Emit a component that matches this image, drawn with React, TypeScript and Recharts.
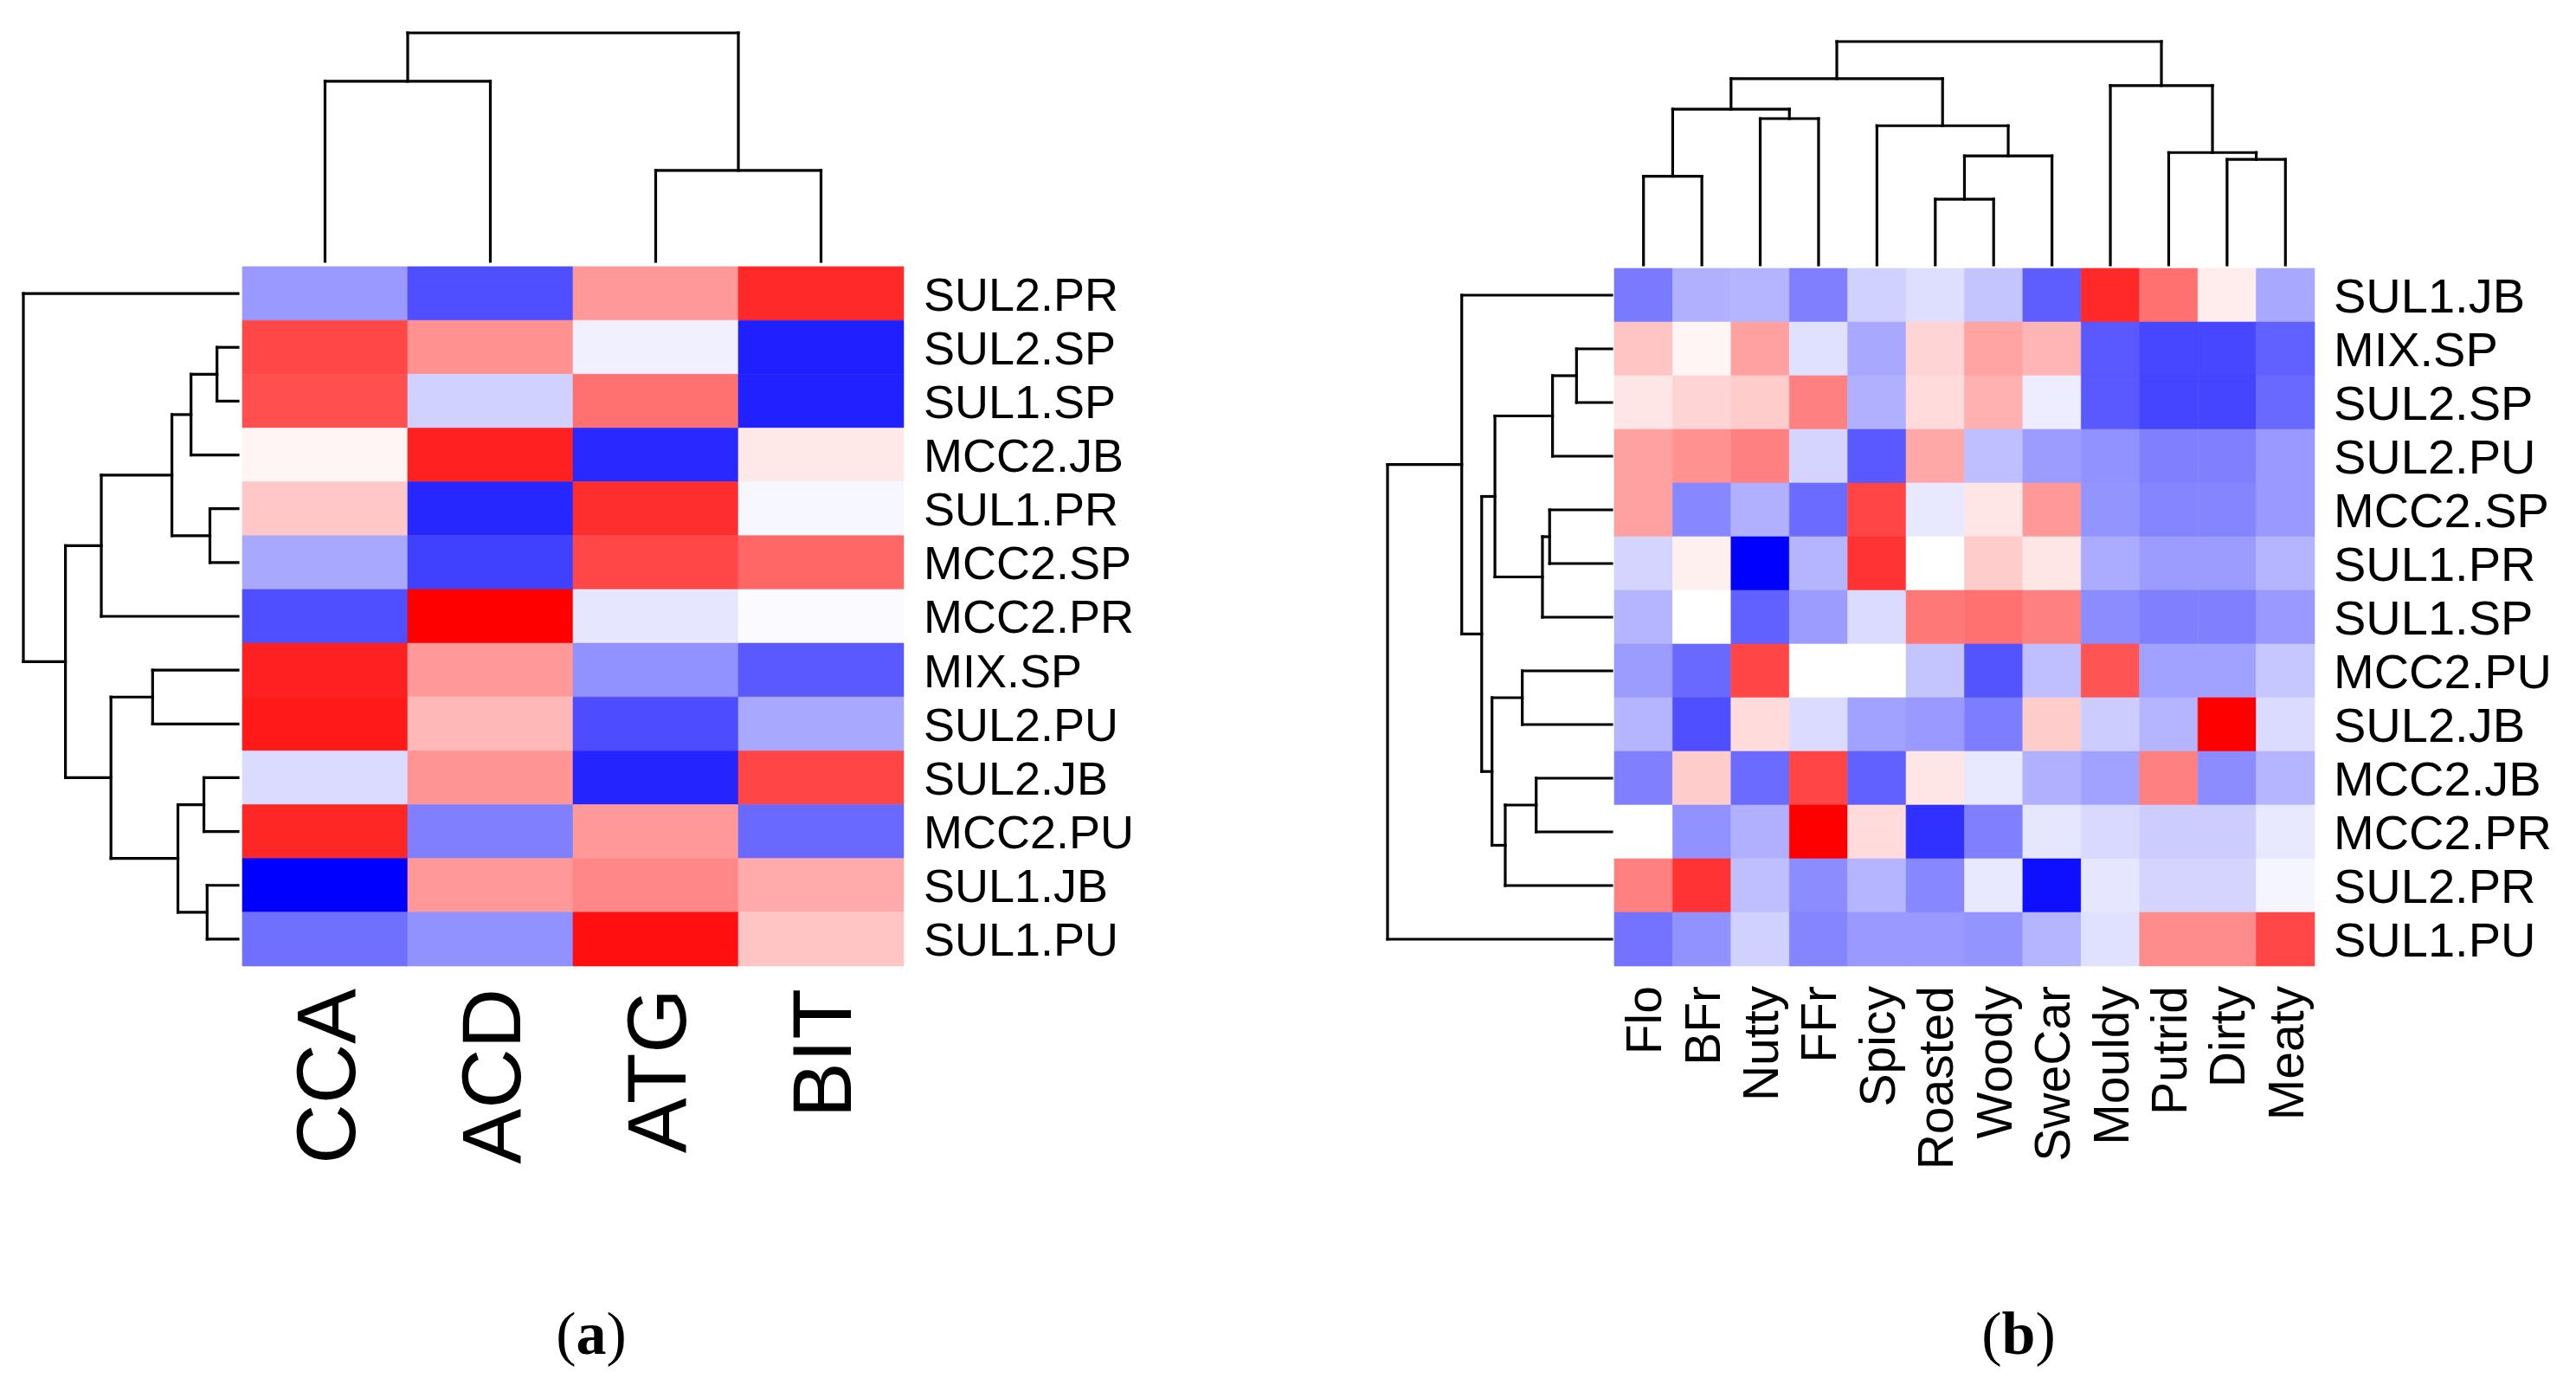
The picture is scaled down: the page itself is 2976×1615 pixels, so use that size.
import React from "react";
import { ScatterChart, XAxis, YAxis, ReferenceArea, ReferenceLine } from "recharts";

// ---- panel (a): sensory attributes ----
const ROWS_A = [
  "SUL2.PR", "SUL2.SP", "SUL1.SP", "MCC2.JB", "SUL1.PR", "MCC2.SP", "MCC2.PR",
  "MIX.SP", "SUL2.PU", "SUL2.JB", "MCC2.PU", "SUL1.JB", "SUL1.PU",
];
const COLS_A = ["CCA", "ACD", "ATG", "BIT"];
// scaled values, -1 = blue, 0 = white, 1 = red
const VALUES_A = [
  [-0.4, -0.69, 0.4, 0.84],
  [0.72, 0.43, -0.06, -0.88],
  [0.69, -0.18, 0.56, -0.87],
  [0.04, 0.87, -0.84, 0.09],
  [0.22, -0.85, 0.82, -0.03],
  [-0.34, -0.75, 0.72, 0.6],
  [-0.69, 1, -0.1, -0.02],
  [0.87, 0.4, -0.43, -0.65],
  [0.9, 0.28, -0.7, -0.34],
  [-0.14, 0.42, -0.86, 0.73],
  [0.85, -0.5, 0.4, -0.59],
  [-1, 0.4, 0.47, 0.33],
  [-0.56, -0.43, 0.94, 0.23],
];
// hclust style merges: negative = leaf (1-based, display order), positive = earlier merge
const ROW_MERGES_A: [number, number, number][] = [
  [-2, -3, 0.098],
  [-5, -6, 0.131],
  [-12, -13, 0.144],
  [-10, -11, 0.159],
  [1, -4, 0.219],
  [4, 3, 0.28],
  [5, 2, 0.308],
  [-8, -9, 0.398],
  [8, 6, 0.592],
  [7, -7, 0.637],
  [10, 9, 0.804],
  [-1, 11, 1.0],
];
const COL_MERGES_A: [number, number, number][] = [
  [-3, -4, 0.398],
  [-1, -2, 0.788],
  [1, 2, 1.0],
];

// ---- panel (b): aroma descriptors ----
const ROWS_B = [
  "SUL1.JB", "MIX.SP", "SUL2.SP", "SUL2.PU", "MCC2.SP", "SUL1.PR", "SUL1.SP",
  "MCC2.PU", "SUL2.JB", "MCC2.JB", "MCC2.PR", "SUL2.PR", "SUL1.PU",
];
const COLS_B = [
  "Flo", "BFr", "Nutty", "FFr", "Spicy", "Roasted", "Woody", "SweCar",
  "Mouldy", "Putrid", "Dirty", "Meaty",
];
const VALUES_B = [
  [-0.52, -0.31, -0.29, -0.5, -0.18, -0.13, -0.23, -0.63, 0.84, 0.56, 0.07, -0.34],
  [0.23, 0.04, 0.37, -0.12, -0.34, 0.17, 0.36, 0.29, -0.65, -0.72, -0.72, -0.62],
  [0.1, 0.17, 0.2, 0.5, -0.31, 0.14, 0.31, -0.07, -0.65, -0.73, -0.73, -0.59],
  [0.37, 0.43, 0.5, -0.17, -0.65, 0.34, -0.25, -0.39, -0.43, -0.5, -0.5, -0.4],
  [0.37, -0.47, -0.31, -0.58, 0.73, -0.09, 0.1, 0.4, -0.42, -0.48, -0.48, -0.4],
  [-0.17, 0.06, -1, -0.29, 0.8, 0, 0.2, 0.1, -0.33, -0.39, -0.39, -0.29],
  [-0.29, 0, -0.62, -0.39, -0.14, 0.53, 0.56, 0.5, -0.45, -0.5, -0.5, -0.4],
  [-0.39, -0.59, 0.73, 0, 0, -0.23, -0.67, -0.25, 0.67, -0.37, -0.37, -0.22],
  [-0.29, -0.69, 0.14, -0.14, -0.37, -0.4, -0.51, 0.2, -0.2, -0.29, 1, -0.14],
  [-0.5, 0.2, -0.58, 0.73, -0.62, 0.1, -0.09, -0.31, -0.37, 0.5, -0.45, -0.29],
  [0, -0.43, -0.31, 1, 0.14, -0.81, -0.5, -0.1, -0.15, -0.2, -0.2, -0.09],
  [0.5, 0.8, -0.25, -0.45, -0.29, -0.47, -0.09, -0.94, -0.1, -0.17, -0.17, -0.04],
  [-0.55, -0.43, -0.18, -0.48, -0.4, -0.4, -0.42, -0.29, -0.12, 0.45, 0.45, 0.72],
];
const ROW_MERGES_B: [number, number, number][] = [
  [-2, -3, 0.157],
  [1, -4, 0.264],
  [-5, -6, 0.277],
  [3, -7, 0.309],
  [-10, -11, 0.337],
  [-8, -9, 0.399],
  [5, -12, 0.475],
  [2, 4, 0.521],
  [6, 7, 0.534],
  [8, 9, 0.58],
  [-1, 10, 0.669],
  [11, -13, 1.0],
];
const COL_MERGES_B: [number, number, number][] = [
  [-6, -7, 0.294],
  [-1, -2, 0.397],
  [-11, -12, 0.472],
  [1, -8, 0.488],
  [-10, 3, 0.503],
  [-5, 4, 0.623],
  [-3, -4, 0.655],
  [2, 7, 0.697],
  [-9, 5, 0.803],
  [8, 6, 0.834],
  [10, 9, 1.0],
];

const SANS = "'Liberation Sans', Arial, sans-serif";

const heatColor = (v: number) => {
  const t = Math.max(-1, Math.min(1, v));
  const c = Math.round(255 * (1 - Math.abs(t)));
  return t < 0 ? `rgb(${c},${c},255)` : `rgb(255,${c},${c})`;
};

type Seg = { p1: number; h1: number; p2: number; h2: number };

// turn merges into elbow segments in (leaf position, height) space
function dendroSegments(merges: [number, number, number][]): Seg[] {
  const pos: number[] = [];
  const hgt: number[] = [];
  const segs: Seg[] = [];
  const get = (id: number) =>
    id < 0 ? { p: -id - 0.5, h: 0 } : { p: pos[id - 1], h: hgt[id - 1] };
  merges.forEach(([a, b, h]) => {
    const A = get(a);
    const B = get(b);
    segs.push({ p1: A.p, h1: A.h, p2: A.p, h2: h });
    segs.push({ p1: B.p, h1: B.h, p2: B.p, h2: h });
    segs.push({ p1: A.p, h1: h, p2: B.p, h2: h });
    pos.push((A.p + B.p) / 2);
    hgt.push(h);
  });
  return segs;
}

interface PanelProps {
  rows: string[];
  cols: string[];
  values: number[][];
  rowMerges: [number, number, number][];
  colMerges: [number, number, number][];
  width: number;
  height: number;
  margin: { top: number; right: number; bottom: number; left: number };
  xMin: number;
  yMin: number;
  leftDendro: { base: number; span: number };
  topDendro: { base: number; span: number };
  rowFont: number;
  colFont: number;
  rowGap: number;
  colGap: number;
  axisW: number;
  axisH: number;
}

const Heatmap: React.FC<PanelProps> = (p) => {
  const nr = p.rows.length;
  const nc = p.cols.length;
  const rowTicks = p.rows.map((_, i) => i + 0.5);
  const colTicks = p.cols.map((_, i) => i + 0.5);
  const top = dendroSegments(p.colMerges).map((s) => ({
    x1: s.p1,
    y1: -(p.topDendro.base + s.h1 * p.topDendro.span),
    x2: s.p2,
    y2: -(p.topDendro.base + s.h2 * p.topDendro.span),
  }));
  const left = dendroSegments(p.rowMerges).map((s) => ({
    y1: s.p1,
    x1: -(p.leftDendro.base + s.h1 * p.leftDendro.span),
    y2: s.p2,
    x2: -(p.leftDendro.base + s.h2 * p.leftDendro.span),
  }));

  return (
    <ScatterChart width={p.width} height={p.height} margin={p.margin}>
      <XAxis
        type="number"
        dataKey="x"
        domain={[p.xMin, nc]}
        allowDataOverflow
        ticks={colTicks}
        interval={0}
        axisLine={false}
        tickLine={false}
        tickSize={0}
        tickMargin={p.colGap}
        height={p.axisH}
        tick={(t: any) => (
          <text
            x={t.x}
            y={t.y}
            dy="0.36em"
            textAnchor="end"
            transform={`rotate(-90 ${t.x} ${t.y})`}
            fontSize={p.colFont}
            fontFamily={SANS}
            fill="#000"
          >
            {p.cols[Math.floor(t.payload.value)]}
          </text>
        )}
      />
      <YAxis
        type="number"
        dataKey="y"
        orientation="right"
        reversed
        domain={[p.yMin, nr]}
        allowDataOverflow
        ticks={rowTicks}
        interval={0}
        axisLine={false}
        tickLine={false}
        tickSize={0}
        tickMargin={p.rowGap}
        width={p.axisW}
        tick={(t: any) => (
          <text
            x={t.x}
            y={t.y}
            dy="0.36em"
            textAnchor="start"
            fontSize={p.rowFont}
            fontFamily={SANS}
            fill="#000"
          >
            {p.rows[Math.floor(t.payload.value)]}
          </text>
        )}
      />
      {p.values.map((row, r) =>
        row.map((v, c) => (
          <ReferenceArea
            key={`c-${r}-${c}`}
            x1={c}
            x2={c + 1}
            y1={r}
            y2={r + 1}
            fill={heatColor(v)}
            fillOpacity={1}
            stroke={heatColor(v)}
            strokeWidth={0.6}
            ifOverflow="visible"
          />
        ))
      )}
      {top.concat(left).map((s, i) => (
        <ReferenceLine
          key={`d-${i}`}
          segment={[
            { x: s.x1, y: s.y1 },
            { x: s.x2, y: s.y2 },
          ]}
          stroke="#000"
          strokeWidth={3.2}
          strokeLinecap="square"
          ifOverflow="visible"
        />
      ))}
    </ScatterChart>
  );
};

const captionStyle: React.CSSProperties = {
  position: "absolute",
  top: 1506,
  transform: "translateX(-50%)",
  fontFamily: "'Liberation Serif', 'Times New Roman', serif",
  fontSize: 70,
  lineHeight: 1,
  color: "#000",
  whiteSpace: "nowrap",
};

const App: React.FC = () => (
  <div
    style={{
      position: "absolute",
      left: 0,
      top: 0,
      width: 2976,
      height: 1615,
      background: "#fff",
      overflow: "hidden",
    }}
  >
    <div style={{ position: "absolute", left: 0, top: 0 }}>
      <Heatmap
        rows={ROWS_A}
        cols={COLS_A}
        values={VALUES_A}
        rowMerges={ROW_MERGES_A}
        colMerges={COL_MERGES_A}
        width={1500}
        height={1420}
        margin={{ top: 38, left: 27, right: 156, bottom: 54 }}
        axisW={300}
        axisH={250}
        xMin={-253 / 191}
        yMin={-270 / 62.15}
        leftDendro={{ base: 5 / 191, span: 248 / 191 }}
        topDendro={{ base: 6 / 62.15, span: 264 / 62.15 }}
        rowFont={54}
        colFont={96}
        rowGap={23}
        colGap={26}
      />
    </div>
    <div style={{ position: "absolute", left: 1550, top: 0 }}>
      <Heatmap
        rows={ROWS_B}
        cols={COLS_B}
        values={VALUES_B}
        rowMerges={ROW_MERGES_B}
        colMerges={COL_MERGES_B}
        width={1426}
        height={1420}
        margin={{ top: 48, left: 53, right: 42, bottom: 54 }}
        axisW={260}
        axisH={250}
        xMin={-262 / 67.42}
        yMin={-262 / 62}
        leftDendro={{ base: 3 / 67.42, span: 259 / 67.42 }}
        topDendro={{ base: 4 / 62, span: 258 / 62 }}
        rowFont={56}
        colFont={57}
        rowGap={22}
        colGap={23}
      />
    </div>
    <div style={{ ...captionStyle, left: 683 }}>
      (<b>a</b>)
    </div>
    <div style={{ ...captionStyle, left: 2332 }}>
      (<b>b</b>)
    </div>
  </div>
);

export default App;
